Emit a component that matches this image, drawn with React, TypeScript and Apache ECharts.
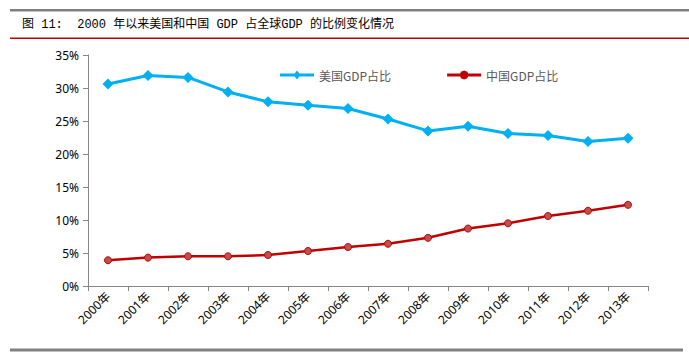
import React, { useEffect, useRef } from "react";
import * as echarts from "echarts";

const years = ["2000年", "2001年", "2002年", "2003年", "2004年", "2005年", "2006年", "2007年", "2008年", "2009年", "2010年", "2011年", "2012年", "2013年"];
const usShare = [30.6, 31.9, 31.6, 29.4, 27.9, 27.4, 26.9, 25.3, 23.5, 24.2, 23.1, 22.8, 21.9, 22.4];
const chinaShare = [3.9, 4.3, 4.5, 4.5, 4.7, 5.3, 5.9, 6.4, 7.3, 8.7, 9.5, 10.6, 11.4, 12.3];
const seriesNames = ["美国GDP占比", "中国GDP占比"];
const titleText = "图 11:  2000 年以来美国和中国 GDP 占全球GDP 的比例变化情况";

const usIcon = "path://M0,6 L34,6 L34,9 L0,9 Z M17,3 L20.5,7.5 L17,12 L13.5,7.5 Z";
const cnIcon = "path://M0,6 L34,6 L34,9 L0,9 Z M17,3 L20.2,4.3 L21.5,7.5 L20.2,10.7 L17,12 L13.8,10.7 L12.5,7.5 L13.8,4.3 Z";

export default function App() {
  const ref = useRef<HTMLDivElement>(null);
  useEffect(() => {
    document.body.style.margin = "0";
    const chart = echarts.init(ref.current!, null, { renderer: "svg" });
    chart.setOption({
      animation: false,
      backgroundColor: "#ffffff",
      grid: { left: 88, right: 41, top: 55, bottom: 70 },
      legend: {
        top: 64,
        left: 275,
        itemGap: 56,
        itemWidth: 34,
        itemHeight: 9,
        textStyle: { fontFamily: "Noto Sans CJK SC", fontSize: 12, color: "#595959" },
        data: [
          { name: seriesNames[0], icon: usIcon, itemStyle: { color: "#00B0F0" } },
          { name: seriesNames[1], icon: cnIcon, itemStyle: { color: "#C00000", borderWidth: 0 } },
        ],
      },
      graphic: [
        { type: "rect", shape: { x: 10, y: 9, width: 679, height: 2.5 }, style: { fill: "#808080" } },
        { type: "rect", shape: { x: 10, y: 37.5, width: 679, height: 1.6 }, style: { fill: "#C00000" } },
        { type: "rect", shape: { x: 10, y: 348.5, width: 673, height: 3 }, style: { fill: "#808080" } },
        {
          type: "text",
          x: 22,
          y: 19,
          style: {
            text: titleText,
            fontFamily: "'Liberation Mono', 'Noto Sans CJK SC'",
            fontSize: 12,
            fill: "#000000",
          },
        },
      ],
      xAxis: {
        type: "category",
        data: years,
        boundaryGap: true,
        axisLine: { lineStyle: { color: "#868686", width: 1 } },
        axisTick: { show: true, alignWithLabel: false, length: 5, lineStyle: { color: "#868686" } },
        axisLabel: {
          rotate: 45,
          interval: 0,
          fontFamily: "'Noto Sans', 'Noto Sans CJK SC'",
          fontSize: 12,
          color: "#000000",
          margin: 8,
        },
      },
      yAxis: {
        type: "value",
        min: 0,
        max: 35,
        interval: 5,
        splitLine: { show: false },
        axisLine: { show: true, lineStyle: { color: "#868686", width: 1 } },
        axisTick: { show: true, length: 5, lineStyle: { color: "#868686" } },
        axisLabel: {
          formatter: (v: number) => v + "%",
          fontFamily: "Noto Sans",
          fontSize: 12,
          color: "#000000",
          margin: 9,
        },
      },
      series: [
        {
          name: seriesNames[0],
          type: "line",
          data: usShare,
          symbol: "diamond",
          symbolSize: 11,
          lineStyle: { color: "#00B0F0", width: 3 },
          itemStyle: { color: "#00B0F0" },
        },
        {
          name: seriesNames[1],
          type: "line",
          data: chinaShare,
          symbol: "circle",
          symbolSize: 7,
          lineStyle: { color: "#C00000", width: 2.5 },
          itemStyle: { color: "#C0504D", borderColor: "#C00000", borderWidth: 1 },
        },
      ],
    });
    return () => chart.dispose();
  }, []);
  return <div ref={ref} style={{ width: 689, height: 356 }} />;
}
